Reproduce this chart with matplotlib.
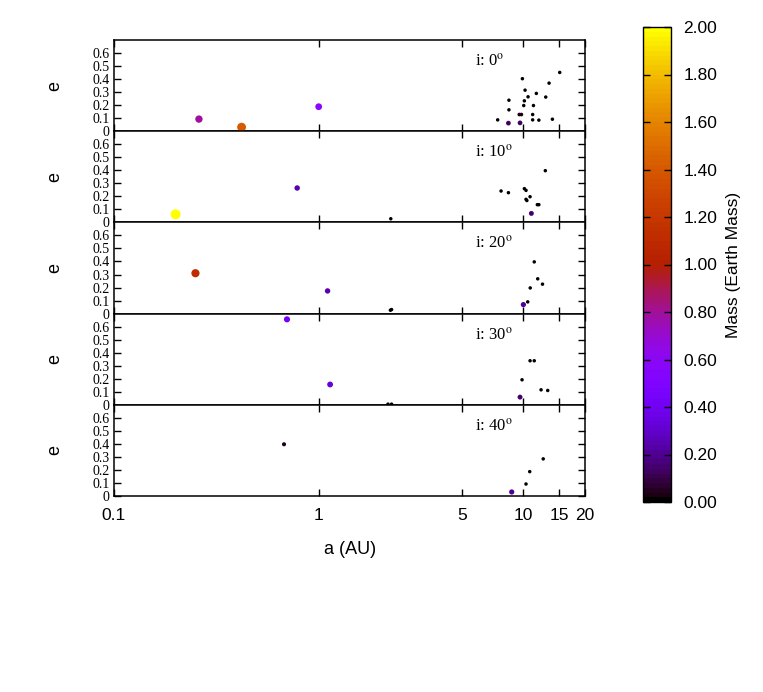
import matplotlib
matplotlib.use("Agg")
import matplotlib.pyplot as plt
import numpy as np
from matplotlib.colors import Normalize
from matplotlib.cm import ScalarMappable


# semi-major axis (AU), eccentricity and mass (Earth masses) per inclination
a_0 = [0.26, 0.42, 1.0, 7.49, 8.45, 8.5, 8.5, 9.63, 9.55, 9.78, 9.89, 10.19, 10.11,
       10.54, 10.04, 11.1, 11.1, 11.2, 11.57, 11.9, 12.86, 13.35, 13.86, 15.05]
e_0 = [0.093, 0.031, 0.188, 0.087, 0.062, 0.238, 0.164, 0.064, 0.128, 0.128, 0.403, 0.315, 0.233,
       0.264, 0.197, 0.087, 0.128, 0.197, 0.29, 0.085, 0.262, 0.369, 0.092, 0.451]
m_0 = [0.78, 1.40, 0.58, 0.01, 0.12, 0.01, 0.01, 0.12, 0.02, 0.02, 0.01, 0.01, 0.01,
       0.01, 0.01, 0.01, 0.01, 0.01, 0.01, 0.01, 0.01, 0.01, 0.01, 0.01]

a_10 = [0.2, 0.785, 2.25, 7.78, 8.45, 10.11, 10.3, 10.78, 10.3, 10.4, 11.7, 11.9, 10.94, 12.8]
e_10 = [0.062, 0.264, 0.028, 0.241, 0.228, 0.259, 0.246, 0.197, 0.177, 0.168, 0.136, 0.136, 0.069, 0.397]
m_10 = [2.0, 0.25, 0.01, 0.01, 0.01, 0.01, 0.01, 0.01, 0.01, 0.01, 0.01, 0.01, 0.15, 0.01]

a_20 = [0.25, 1.105, 2.24, 2.27, 10.0, 10.5, 10.8, 11.3, 11.75, 12.4]
e_20 = [0.31, 0.174, 0.026, 0.031, 0.069, 0.09, 0.197, 0.397, 0.267, 0.226]
m_20 = [1.1, 0.24, 0.01, 0.01, 0.2, 0.01, 0.01, 0.01, 0.01, 0.01]

a_30 = [0.7, 1.137, 2.18, 2.27, 9.63, 9.85, 10.78, 11.3, 12.2, 13.15]
e_30 = [0.656, 0.156, 0.005, 0.005, 0.059, 0.192, 0.338, 0.338, 0.115, 0.11]
m_30 = [0.4, 0.33, 0.01, 0.01, 0.15, 0.01, 0.01, 0.01, 0.01, 0.01]

a_40 = [0.677, 8.77, 10.3, 10.74, 12.5]
e_40 = [0.397, 0.031, 0.092, 0.187, 0.285]
m_40 = [0.05, 0.2, 0.01, 0.01, 0.01]

inclinations = [0, 10, 20, 30, 40]
panels = [(a_0, e_0, m_0), (a_10, e_10, m_10), (a_20, e_20, m_20),
          (a_30, e_30, m_30), (a_40, e_40, m_40)]

x_ticks = [0.1, 1, 5, 10, 15, 20]
x_ticklabels = ["0.1", "1", "5", "10", "15", "20"]
y_ticks = [0, 0.1, 0.2, 0.3, 0.4, 0.5, 0.6]
y_ticklabels = ["0", "0.1", "0.2", "0.3", "0.4", "0.5", "0.6"]
cbar_ticks = [0.0, 0.2, 0.4, 0.6, 0.8, 1.0, 1.2, 1.4, 1.6, 1.8, 2.0]

SANS = "Liberation Sans"
SERIF = "Liberation Serif"
plt.rcParams["mathtext.fontset"] = "stix"

W, H = 763, 692
fig = plt.figure(figsize=(W / 100, H / 100), dpi=100)

cmap = plt.get_cmap("gnuplot").resampled(100)
norm = Normalize(vmin=0, vmax=2)

# axes geometry in pixels
left_px, right_px = 114, 585
top_px, panel_h = 40, 91.2

for k, ((a, e, m), inc) in enumerate(zip(panels, inclinations)):
    bottom = 1 - (top_px + panel_h * (k + 1)) / H
    ax = fig.add_axes([left_px / W, bottom, (right_px - left_px) / W, panel_h / H])

    m = np.array(m)
    diam_px = 3 + 7 * np.sqrt(m / 2)  # marker diameter grows with mass
    sizes = (diam_px * 0.72) ** 2
    ax.scatter(a, e, s=sizes, c=m, cmap=cmap, norm=norm, linewidths=0,
               zorder=3, clip_on=False)

    ax.set_xscale("log")
    ax.set_xlim(0.1, 20)
    ax.set_ylim(0, 0.7)
    ax.set_xticks(x_ticks)
    ax.minorticks_off()
    ax.set_yticks(y_ticks)
    ax.set_yticklabels(y_ticklabels, family=SERIF, fontsize=10)
    if k == 4:
        ax.set_xticklabels(x_ticklabels, family=SANS, fontsize=12.5)
    else:
        ax.set_xticklabels([])
    ax.tick_params(direction="in", top=True, right=True, length=5, width=1)
    ax.tick_params(axis="y", pad=3)
    ax.tick_params(axis="x", pad=9)
    for sp in ax.spines.values():
        sp.set_linewidth(1.1)

    ax.text(0.766, 0.72, "i: %d$^{\\mathrm{o}}$" % inc, transform=ax.transAxes,
            family=SERIF, fontsize=12)

    fig.text(55 / W, 1 - (top_px + panel_h * k + panel_h / 2) / H, "e",
             rotation=90, ha="center", va="center", family=SANS, fontsize=13)

fig.text(350 / W, 1 - 549 / H, "a (AU)", ha="center", va="center",
         family=SANS, fontsize=13)

# colour bar
cax = fig.add_axes([643 / W, 1 - 502 / H, 28 / W, 475 / H])
sm = ScalarMappable(norm=norm, cmap=cmap)
cb = fig.colorbar(sm, cax=cax, ticks=cbar_ticks)
cb.ax.set_yticklabels(["%.2f" % t for t in cbar_ticks], family=SANS, fontsize=12.5)
cb.ax.tick_params(direction="in", left=True, right=True, length=5, width=1, pad=9)
cb.outline.set_linewidth(1)
cb.set_label("Mass (Earth Mass)", family=SANS, fontsize=12.5, labelpad=6)

fig.savefig("out.png", dpi=100)
